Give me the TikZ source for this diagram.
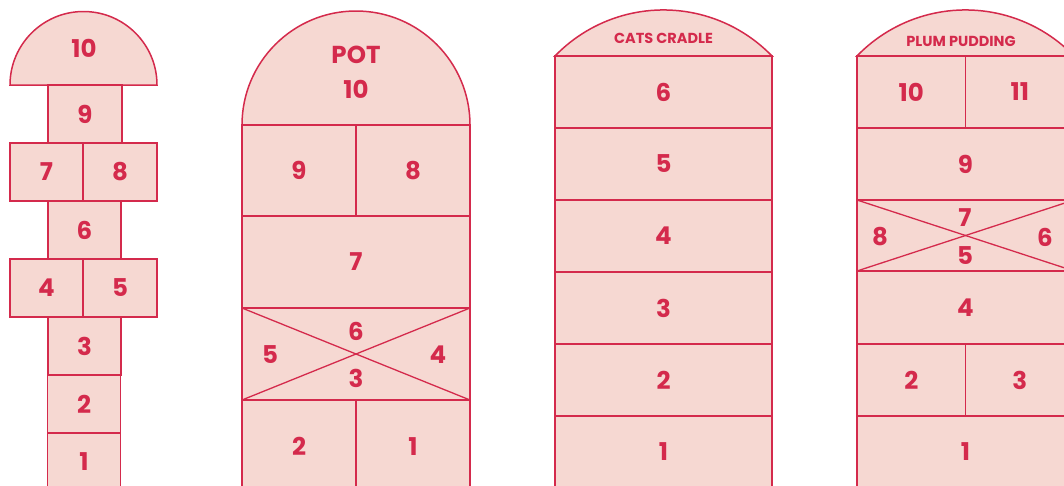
\documentclass[tikz,border=0pt]{standalone}
\usepackage{fontspec}
\setmainfont{Poppins}
\definecolor{hopred}{HTML}{D42A4C}
\definecolor{hopfill}{HTML}{F6D8D2}
\tikzset{
  cell/.style={draw=hopred, fill=hopfill, line width=1.5pt, text=hopred, inner sep=0pt, outer sep=0pt, font=\fontsize{24.5}{24.5}\selectfont\bfseries},
  dome/.style={draw=hopred, fill=hopfill, line width=1.5pt},
  cross/.style={draw=hopred, line width=1.3pt},
  tag/.style={text=hopred, inner sep=0pt, font=\fontsize{24.5}{24.5}\selectfont\bfseries},
  title/.style={text=hopred, inner sep=0pt, font=\fontsize{14.5}{14.5}\selectfont\bfseries},
}

\begin{document}
\begin{tikzpicture}[x=1pt, y=-1pt]
  \useasboundingbox (0,0) rectangle (1064,485);
  \clip (0,0) rectangle (1064,485);

  % classic
  \draw[dome] (10,85) arc[start angle=180, end angle=0, radius=73.5pt] -- cycle;
  \node[tag] (a10) at (84,48) {10};
  \node[cell, minimum width=74pt, minimum height=58pt] (a9) at (85,114) {9};
  \node[cell, minimum width=73pt, minimum height=58pt] (a7) at (46.5,172) {7};
  \node[cell, minimum width=74pt, minimum height=58pt] (a8) at (120,172) {8};
  \node[cell, minimum width=73pt, minimum height=58pt] (a6) at (84.5,230) {6};
  \node[cell, minimum width=73pt, minimum height=58pt] (a4) at (46.5,288) {4};
  \node[cell, minimum width=74pt, minimum height=58pt] (a5) at (120,288) {5};
  \node[cell, minimum width=73pt, minimum height=58pt] (a3) at (84.5,346) {3};
  \node[cell, minimum width=73pt, minimum height=58pt] (a2) at (84,404) {2};
  \node[cell, minimum width=73pt, minimum height=58pt] (a1) at (84,462) {1};

  % pot
  \draw[dome] (242,125) arc[start angle=180, end angle=0, radius=114pt] -- cycle;
  \node[tag] (bpot) at (356,55) {POT};
  \node[tag] (b10) at (356,89) {10};
  \node[cell, minimum width=114pt, minimum height=91pt] (b9) at (299,170.5) {9};
  \node[cell, minimum width=114pt, minimum height=91pt] (b8) at (413,170.5) {8};
  \node[cell, minimum width=228pt, minimum height=92pt] (b7) at (356,262) {7};
  \node[cell, minimum width=228pt, minimum height=92pt] (bx) at (356,354) {};
  \draw[cross] (bx.north west) -- (bx.south east);
  \draw[cross] (bx.south west) -- (bx.north east);
  \node[tag] (b6) at (356,331) {6};
  \node[tag] (b5) at (270,355) {5};
  \node[tag] (b4) at (438,355) {4};
  \node[tag] (b3) at (356,378) {3};
  \node[cell, minimum width=114pt, minimum height=93pt] (b2) at (299,446.5) {2};
  \node[cell, minimum width=114pt, minimum height=93pt] (b1) at (413,446.5) {1};

  % cats cradle
  \draw[dome] (555,56) arc[start angle=136, end angle=44, radius=150.8pt] -- cycle;
  \node[title] (ctitle) at (663.5,38.5) {CATS CRADLE};
  \node[cell, minimum width=217pt, minimum height=72pt] (c6) at (663.5,92) {6};
  \node[cell, minimum width=217pt, minimum height=72pt] (c5) at (663.5,164) {5};
  \node[cell, minimum width=217pt, minimum height=72pt] (c4) at (663.5,236) {4};
  \node[cell, minimum width=217pt, minimum height=72pt] (c3) at (663.5,308) {3};
  \node[cell, minimum width=217pt, minimum height=72pt] (c2) at (663.5,380) {2};
  \node[cell, minimum width=217pt, minimum height=72pt] (c1) at (663.5,452) {1};

  % plum pudding
  \draw[dome] (857,56) arc[start angle=136, end angle=44, radius=150.8pt] -- cycle;
  \node[title] (dtitle) at (961,41.5) {PLUM PUDDING};
  \node[cell, minimum width=108.5pt, minimum height=72pt] (d10) at (911.25,92) {10};
  \node[cell, minimum width=108.5pt, minimum height=72pt] (d11) at (1019.75,92) {11};
  \node[cell, minimum width=217pt, minimum height=72pt] (d9) at (965.5,164) {9};
  \node[cell, minimum width=217pt, minimum height=71pt] (dx) at (965.5,235.5) {};
  \draw[cross] (dx.north west) -- (dx.south east);
  \draw[cross] (dx.south west) -- (dx.north east);
  \node[tag] (d7) at (965,218) {7};
  \node[tag] (d8) at (880,237) {8};
  \node[tag] (d6) at (1045,237) {6};
  \node[tag] (d5) at (965,256) {5};
  \node[cell, minimum width=217pt, minimum height=73pt] (d4) at (965.5,307.5) {4};
  \node[cell, minimum width=108.5pt, minimum height=72pt] (d2) at (911.25,380) {2};
  \node[cell, minimum width=108.5pt, minimum height=72pt] (d3) at (1019.75,380) {3};
  \node[cell, minimum width=217pt, minimum height=72pt] (d1) at (965.5,452) {1};
\end{tikzpicture}
\end{document}
